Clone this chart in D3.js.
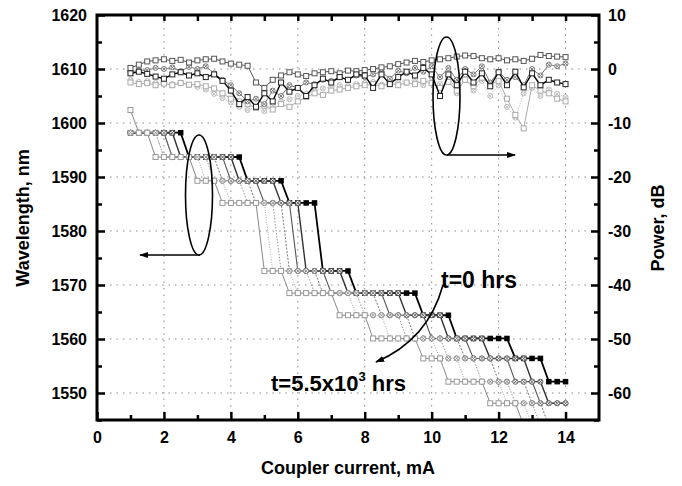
<!DOCTYPE html>
<html>
<head>
<meta charset="utf-8">
<script src="https://cdn.jsdelivr.net/npm/d3@7"></script>
<style>
  body { margin: 0; background: #fff; }
  text { font-family: "Liberation Sans", Arial, sans-serif; font-weight: bold; fill: #000; }
</style>
</head>
<body>
<svg id="chart" width="682" height="486"></svg>
<script>
// measurement currents, mA
var currents = d3.range(1, 14.001, 0.25);

// lasing mode wavelengths, nm
var modeLevels = [1602.4, 1598.2, 1593.7, 1589.3, 1585.2, 1572.6, 1568.5, 1564.4, 1560.1, 1556.4, 1552.1, 1548.1, 1544.0];

// current at which each curve enters each mode (null = not reached); first row is t=0
var hopCurrents = [
  [null, 1.0, 2.75, 4.5, 5.75, 6.75, 7.75, 9.75, 10.75, 12.5, 13.5, null, null],
  [null, 1.0, 2.5, 4.25, 5.5, 6.25, 7.5, 9.25, 10.5, 11.75, 13.0, 13.5, null],
  [null, 1.0, 2.25, 4.0, 5.0, 6.0, 7.0, 8.75, 10.0, 11.25, 12.5, 13.25, null],
  [null, 1.0, 2.25, 3.75, 4.75, 5.75, 6.75, 8.5, 9.5, 11.0, 12.0, 13.0, 13.5],
  [null, 1.0, 2.0, 3.5, 4.5, 5.5, 6.5, 8.0, 9.25, 10.5, 11.5, 12.5, 13.25],
  [null, 1.0, 2.0, 3.25, 4.0, 5.25, 6.0, 7.75, 8.75, 10.25, 11.0, 12.25, 13.0],
  [1.0, 1.25, 1.75, 3.0, 3.75, 5.0, 5.75, 7.25, 8.25, 9.75, 10.5, 11.75, 12.75]
];

// output power, dB (same currents)
var powerT0 = [-0.8,-0.5,-0.9,-1.4, -1.8,-1.0,-0.6,-1.2, -0.8,-1.5,-1.0,-2.2, -4.0,-6.5,-5.2,-7.0,
  -4.5,-6.0,-2.5,-4.2, -3.5,-5.0,-3.0,-1.8, -2.5,-1.5,-2.0,-1.0, -1.2,-3.5,-1.0,-2.8,
  -1.5,-0.5,-1.2,0.2, -1.0,-5.0,-1.0,-3.0, -0.5,-2.5,-0.8,-3.2, -0.6,-3.0,-0.5,-3.4, -0.8,-3.0,-2.0,-2.5, -2.8];
var powerA = [0.2,0.8,1.4,1.6, 1.8,1.5,1.7,1.2, 1.6,1.8,1.9,1.4, 1.0,0.8,0.6,-2.5,
  -3.5,-2.0,-1.2,-0.6, -1.0,-1.3,-0.8,-0.6, -0.4,-0.8,-0.3,-0.4, -0.2,0.0,0.3,0.5,
  0.9,1.2,1.5,1.3, 1.6,1.8,2.0,2.3, 2.5,2.4,2.0,1.8, 2.0,1.6,1.8,1.5, 1.9,2.6,2.4,2.3, 2.2];
var powerB = [-0.5,-0.3,-0.2,0.2, 0.0,0.3,-0.4,0.4, 0.0,0.5,-0.8,-2.0, -3.0,-4.5,-6.0,-5.5,
  -6.5,-4.0,-5.0,-3.0, -3.5,-2.5,-2.8,-2.0, -2.2,-1.5,-2.0,-1.2, -1.5,-1.0,-0.5,-1.8,
  -0.3,-0.8,0.2,-0.5, 0.5,-1.5,0.2,-2.0, 0.0,-1.0,0.5,-2.5, -0.5,-2.0,-1.5,-3.0, 0.0,-1.2,0.8,0.5, 1.0];
var powerC = [-2.5,-2.8,-2.6,-3.0, -2.7,-3.0,-2.6,-2.9, -2.8,-3.2,-3.6,-4.5, -5.5,-6.0,-6.5,-7.2,
  -6.8,-7.5,-6.5,-7.0, -6.0,-5.2,-4.5,-4.8, -4.0,-3.8,-3.5,-3.2, -3.0,-2.8,-3.2,-2.6,
  -3.0,-2.5,-2.8,-2.2, -2.6,-3.5,-2.4,-4.0, -2.0,-3.2,-1.6,-2.8, -2.2,-5.5,-8.5,-11.0, -3.0,-4.0,-4.5,-5.5, -6.0];
var powerD = [-2.0,-2.4,-2.2,-2.6, -2.4,-2.8,-2.5,-3.0, -3.3,-3.8,-4.6,-5.4, -6.2,-7.0,-7.6,-7.0,
  -7.8,-6.8,-6.0,-5.6, -5.0,-4.6,-4.0,-3.6, -3.4,-3.0,-3.2,-2.8, -2.6,-2.4,-2.9,-2.2,
  -2.0,-2.6,-1.8,-3.0, -1.5,-2.8,-1.2,-4.5, -1.8,-4.0,-2.2,-5.0, -3.0,-7.0,-9.0,-4.5, -3.5,-5.0,-3.8,-4.6, -5.2];

var xTicks = [0, 2, 4, 6, 8, 10, 12, 14];
var wlTicks = [1550, 1560, 1570, 1580, 1590, 1600, 1610, 1620];
var pwTicks = [-60, -50, -40, -30, -20, -10, 0, 10];

var svg = d3.select("#chart");
var m = {left: 97, right: 599, top: 15, bottom: 420};

var x = d3.scaleLinear().domain([0, 15]).range([m.left, m.right]);
var yW = d3.scaleLinear().domain([1545, 1620]).range([m.bottom, m.top]);
var yP = d3.scaleLinear().domain([-65, 10]).range([m.bottom, m.top]);

// dotted grid
var grid = svg.append("g").attr("stroke", "#8a8a8a").attr("stroke-width", 1).attr("stroke-dasharray", "1.5,5");
grid.selectAll(".gx").data(xTicks.slice(1)).enter().append("line")
  .attr("x1", d => x(d)).attr("x2", d => x(d)).attr("y1", m.top).attr("y2", m.bottom);
grid.selectAll(".gy").data(wlTicks.slice(0, -1)).enter().append("line")
  .attr("x1", m.left).attr("x2", m.right).attr("y1", d => yW(d)).attr("y2", d => yW(d));

var defs = svg.append("defs");
defs.append("clipPath").attr("id", "plot").append("rect")
  .attr("x", m.left).attr("y", m.top).attr("width", m.right - m.left).attr("height", m.bottom - m.top);
defs.append("marker").attr("id", "head").attr("viewBox", "0 0 10 10").attr("refX", 9).attr("refY", 5)
  .attr("markerWidth", 9).attr("markerHeight", 9).attr("orient", "auto").attr("markerUnits", "userSpaceOnUse")
  .append("path").attr("d", "M0,1.5L10,5L0,8.5Z").attr("fill", "#000");

var data = svg.append("g").attr("clip-path", "url(#plot)");

function drawSeries(pts, lineGen, st, size) {
  data.append("path").datum(pts).attr("d", lineGen).attr("fill", "none")
    .attr("stroke", st.line).attr("stroke-width", st.w).attr("stroke-dasharray", st.dash);
  var mk = data.append("g").selectAll("g").data(pts).enter().append("g")
    .attr("transform", d => "translate(" + lineGen.x()(d) + "," + lineGen.y()(d) + ")");
  if (st.mark === "fill") {
    mk.append("rect").attr("x", -size / 2).attr("y", -size / 2).attr("width", size).attr("height", size).attr("fill", st.col);
  } else if (st.mark === "open") {
    mk.append("rect").attr("x", -size / 2).attr("y", -size / 2).attr("width", size).attr("height", size)
      .attr("fill", "#fff").attr("stroke", st.col).attr("stroke-width", 1);
  } else {
    mk.append("circle").attr("r", size / 2).attr("fill", "#fff").attr("stroke", st.col).attr("stroke-width", 1);
    mk.append("path").attr("d", d3.symbol(d3.symbolTimes, 10)).attr("fill", "none").attr("stroke", st.col).attr("stroke-width", 1);
  }
}

// wavelength curves
var wlStyles = [
  {line: "#000", w: 1.8, dash: null, mark: "fill", col: "#000"},
  {line: "#333", w: 1.4, dash: null, mark: "cross", col: "#555"},
  {line: "#555", w: 1.1, dash: null, mark: "cross", col: "#666"},
  {line: "#777", w: 1, dash: "2,1.5", mark: "cross", col: "#777"},
  {line: "#999", w: 1, dash: "1.5,1.5", mark: "cross", col: "#888"},
  {line: "#aaa", w: 1, dash: "1,1.5", mark: "cross", col: "#999"},
  {line: "#888", w: 1, dash: null, mark: "open", col: "#999"}
];
var wlLine = d3.line().x(d => x(d[0])).y(d => yW(d[1]));

hopCurrents.forEach(function(hops, s) {
  var pts = currents.map(function(c) {
    var k = 0;
    hops.forEach(function(h, n) { if (h !== null && h <= c + 1e-6) k = n; });
    return [c, modeLevels[k]];
  });
  drawSeries(pts, wlLine, wlStyles[s], s === 0 ? 5.5 : 5);
});

// power curves
var pwLine = d3.line().x(d => x(d[0])).y(d => yP(d[1]));
var pwSeries = [powerD, powerC, powerB, powerA, powerT0];
var pwStyles = [
  {line: "#bbb", w: 1, dash: "1,1.5", mark: "cross", col: "#bbb"},
  {line: "#aaa", w: 1, dash: null, mark: "open", col: "#aaa"},
  {line: "#777", w: 1, dash: null, mark: "cross", col: "#777"},
  {line: "#555", w: 1, dash: null, mark: "open", col: "#555"},
  {line: "#000", w: 1.4, dash: null, mark: "open", col: "#222"}
];
pwSeries.forEach(function(vals, s) {
  var pts = currents.map((c, i) => [c, vals[i]]);
  drawSeries(pts, pwLine, pwStyles[s], 5);
});

// axes
function axisStyle(g) {
  g.select(".domain").remove();
  g.selectAll(".tick line").attr("stroke", "#000").attr("stroke-width", 2.5);
  g.selectAll("text").attr("font-size", 16).attr("font-family", "Liberation Sans, Arial, sans-serif").attr("font-weight", "bold");
}
var plain = d => String(d);
svg.append("g").attr("transform", "translate(" + m.left + ",0)")
  .call(d3.axisLeft(yW).tickValues(wlTicks).tickSize(-8).tickPadding(10).tickFormat(plain)).call(axisStyle);
svg.append("g").attr("transform", "translate(" + m.left + ",0)")
  .call(d3.axisLeft(yW).tickValues(wlTicks.map(d => d - 5)).tickSize(-5).tickFormat("")).call(axisStyle);
svg.append("g").attr("transform", "translate(" + m.right + ",0)")
  .call(d3.axisRight(yP).tickValues(pwTicks).tickSize(-8).tickPadding(9).tickFormat(plain)).call(axisStyle);
svg.append("g").attr("transform", "translate(" + m.right + ",0)")
  .call(d3.axisRight(yP).tickValues(pwTicks.map(d => d - 5)).tickSize(-5).tickFormat("")).call(axisStyle);
svg.append("g").attr("transform", "translate(0," + m.bottom + ")")
  .call(d3.axisBottom(x).tickValues(xTicks).tickSize(-8).tickPadding(12).tickFormat(plain)).call(axisStyle);
svg.append("g").attr("transform", "translate(0," + m.bottom + ")")
  .call(d3.axisBottom(x).tickValues([1, 3, 5, 7, 9, 11, 13]).tickSize(-5).tickFormat("")).call(axisStyle);
svg.append("g").attr("transform", "translate(0," + m.top + ")")
  .call(d3.axisTop(x).tickValues(d3.range(1, 15)).tickSize(-6).tickFormat("")).call(axisStyle);

svg.append("rect").attr("x", m.left).attr("y", m.top).attr("width", m.right - m.left).attr("height", m.bottom - m.top)
  .attr("fill", "none").attr("stroke", "#000").attr("stroke-width", 3);

// axis titles
svg.append("text").attr("x", (m.left + m.right) / 2).attr("y", 474).attr("text-anchor", "middle")
  .attr("font-size", 18).text("Coupler current, mA");
svg.append("text").attr("transform", "translate(29,218) rotate(-90)").attr("text-anchor", "middle")
  .attr("font-size", 18).text("Wavelength, nm");
svg.append("text").attr("transform", "translate(664,228) rotate(-90)").attr("text-anchor", "middle")
  .attr("font-size", 18).text("Power, dB");

// annotations
var ann = svg.append("g").attr("fill", "none").attr("stroke", "#000").attr("stroke-width", 1.6);
ann.append("ellipse").attr("cx", 199).attr("cy", 195).attr("rx", 13.5).attr("ry", 60);
ann.append("line").attr("x1", 200).attr("y1", 255).attr("x2", 140).attr("y2", 255).attr("marker-end", "url(#head)");
ann.append("ellipse").attr("cx", 446.5).attr("cy", 96).attr("rx", 13.5).attr("ry", 59);
ann.append("line").attr("x1", 447).attr("y1", 155).attr("x2", 515).attr("y2", 155).attr("marker-end", "url(#head)");
ann.append("path").attr("d", "M443,285 Q428,340 376,362").attr("marker-end", "url(#head)");

svg.append("text").attr("x", 441).attr("y", 288).attr("font-size", 23).text("t=0 hrs");
var t2 = svg.append("text").attr("x", 271).attr("y", 391).attr("font-size", 22);
t2.append("tspan").text("t=5.5x10");
t2.append("tspan").attr("font-size", 13).attr("dy", -10).text("3");
t2.append("tspan").attr("dy", 10).text(" hrs");
</script>
</body>
</html>
